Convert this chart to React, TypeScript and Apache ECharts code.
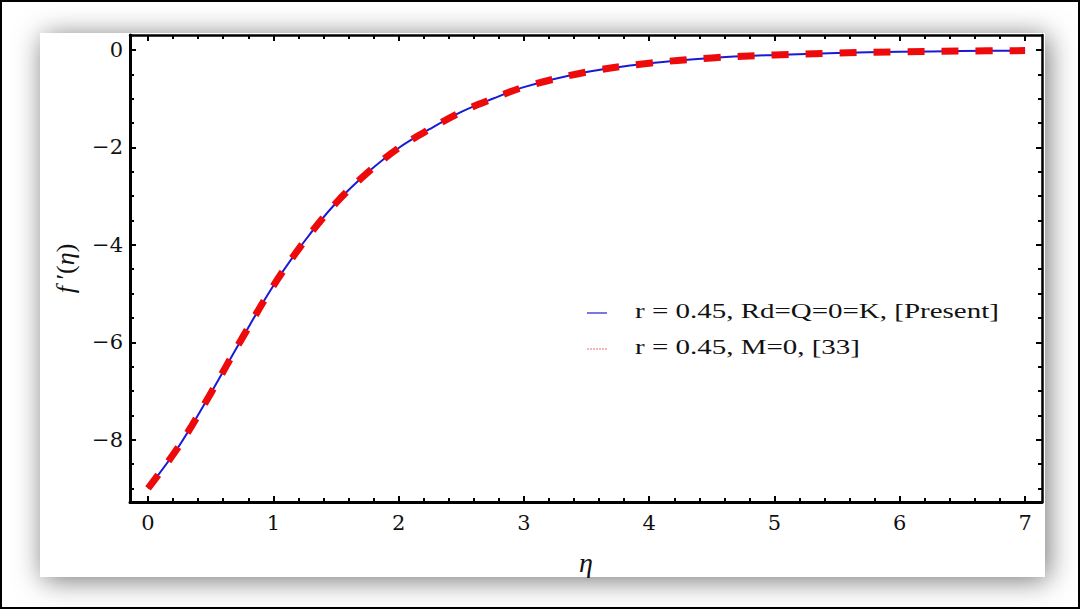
import React, { useEffect, useRef } from "react";
import * as echarts from "echarts";

// η values
const ETA = [0, 0.25, 0.5, 0.75, 1.0, 1.25, 1.5, 1.75, 2.0, 2.25, 2.5, 2.75, 3.0, 3.5, 4.0, 4.5, 5.0, 5.5, 6.0, 6.5, 7.0];
// f'(η): r = 0.45, Rd=Q=0=K, [Present]
const PRESENT = [-9.0, -8.12, -7.05, -5.92, -4.84, -3.92, -3.14, -2.52, -2.01, -1.62, -1.27, -1.0, -0.76, -0.45, -0.27, -0.16, -0.1, -0.06, -0.035, -0.02, -0.01];
// f'(η): r = 0.45, M=0, [33]
const REF33 = [-9.0, -8.12, -7.05, -5.92, -4.84, -3.92, -3.14, -2.52, -2.01, -1.62, -1.27, -1.0, -0.76, -0.45, -0.27, -0.16, -0.1, -0.06, -0.035, -0.02, -0.01];

const X_MAJOR = [0, 1, 2, 3, 4, 5, 6, 7];
const Y_MAJOR = [0, -2, -4, -6, -8];
const LEGEND_LABELS = ["r = 0.45, Rd=Q=0=K, [Present]", "r = 0.45, M=0, [33]"];

const X_MIN = -0.144;
const X_MAX = 7.135;
const Y_MIN = -9.28;
const Y_MAX = 0.31;

const X_MINOR: number[] = [];
for (let i = 0; i <= 35; i++) if (i % 5 !== 0) X_MINOR.push(Math.round(i * 2) / 10);
const Y_MINOR: number[] = [];
for (let i = 0; i <= 18; i++) if (i % 4 !== 0) Y_MINOR.push(-i / 2);

const SERIF = '"DejaVu Serif", "Liberation Serif", serif';
const fmt = (v: number) => (v < 0 ? "\u2212" + Math.abs(v) : String(v));

function xAxisDef(pos: "top" | "bottom", ticks: number[], major: boolean, extra: any = {}) {
  return {
    type: "value",
    min: X_MIN,
    max: X_MAX,
    position: pos,
    axisLine: { show: major, onZero: false, lineStyle: { color: "#000", width: pos === "bottom" ? 3 : 2.5 } },
    axisTick: { show: true, inside: true, length: major ? 6 : 4, lineStyle: { color: "#000", width: 2 }, customValues: ticks },
    axisLabel: { show: false },
    splitLine: { show: false },
    ...extra,
  };
}
function yAxisDef(pos: "left" | "right", ticks: number[], major: boolean, extra: any = {}) {
  return {
    type: "value",
    min: Y_MIN,
    max: Y_MAX,
    position: pos,
    axisLine: { show: major, onZero: false, lineStyle: { color: "#000", width: pos === "left" ? 3 : 2.5 } },
    axisTick: { show: true, inside: true, length: major ? 6 : 4, lineStyle: { color: "#000", width: 2 }, customValues: ticks },
    axisLabel: { show: false },
    splitLine: { show: false },
    ...extra,
  };
}

export default function App() {
  const ref = useRef<HTMLDivElement>(null);
  useEffect(() => {
    if (!ref.current) return;
    const chart = echarts.init(ref.current, null, { renderer: "svg" });
    const option: any = {
      animation: false,
      backgroundColor: "#fff",
      grid: { left: 130, top: 35, right: 43, bottom: 108, containLabel: false },
      xAxis: [
        xAxisDef("bottom", X_MAJOR, true, {
          axisLabel: {
            show: true,
            customValues: X_MAJOR,
            formatter: fmt,
            fontFamily: SERIF,
            fontSize: 21,
            color: "#111",
            margin: 10,
          },
          name: "\u03b7",
          nameLocation: "middle",
          nameGap: 46,
          nameTextStyle: { fontFamily: '"Liberation Serif", serif', fontStyle: "italic", fontSize: 28, color: "#111" },
        }),
        xAxisDef("bottom", X_MINOR, false),
        xAxisDef("top", X_MAJOR, true),
        xAxisDef("top", X_MINOR, false),
      ],
      yAxis: [
        yAxisDef("left", Y_MAJOR, true, {
          axisLabel: {
            show: true,
            customValues: Y_MAJOR,
            formatter: fmt,
            fontFamily: SERIF,
            fontSize: 21,
            color: "#111",
            margin: 7,
          },
          name: "{i|f} \u2032({i|\u03b7})",
          nameLocation: "middle",
          nameRotate: 90,
          nameGap: 52,
          nameTextStyle: {
            fontFamily: '"Liberation Serif", serif',
            fontSize: 26,
            color: "#111",
            rich: {
              i: { fontFamily: '"Liberation Serif", serif', fontStyle: "italic", fontSize: 26, color: "#111" },
            },
          },
        }),
        yAxisDef("left", Y_MINOR, false),
        yAxisDef("right", Y_MAJOR, true),
        yAxisDef("right", Y_MINOR, false),
      ],
      series: [
        {
          name: LEGEND_LABELS[0],
          type: "line",
          xAxisIndex: 0,
          yAxisIndex: 0,
          data: ETA.map((x, i) => [x, PRESENT[i]]),
          smooth: 0.35,
          showSymbol: false,
          symbol: "none",
          lineStyle: { color: "#1a1ad6", width: 2 },
          z: 3,
        },
        {
          name: LEGEND_LABELS[1],
          type: "line",
          xAxisIndex: 0,
          yAxisIndex: 0,
          data: ETA.map((x, i) => [x, REF33[i]]),
          smooth: 0.35,
          showSymbol: false,
          symbol: "none",
          lineStyle: { color: "#ee0a0a", width: 7, type: [17, 17], cap: "butt" },
          z: 4,
        },
      ],
      graphic: {
        elements: [
          {
            type: "rect",
            z: -10,
            silent: true,
            shape: { x: 40, y: 33, width: 1005, height: 544 },
            style: { fill: "#fff", shadowBlur: 28, shadowColor: "rgba(0,0,0,0.55)", shadowOffsetX: 3, shadowOffsetY: 3 },
          },
          {
            type: "rect",
            z: 10,
            silent: true,
            shape: { x: 1, y: 1, width: 1078, height: 607 },
            style: { fill: "none", stroke: "#000", lineWidth: 2 },
          },
          {
            type: "line",
            z: 10,
            shape: { x1: 587, y1: 313, x2: 607, y2: 313 },
            style: { stroke: "#4b4bd2", lineWidth: 1.5 },
          },
          {
            type: "line",
            z: 10,
            shape: { x1: 587, y1: 349, x2: 607, y2: 349 },
            style: { stroke: "#f0a0a0", lineWidth: 1.5, lineDash: [2, 1] },
          },
          {
            type: "text",
            z: 10,
            x: 635,
            y: 311,
            scaleX: 1.38,
            style: {
              text: LEGEND_LABELS[0],
              fontFamily: '"Liberation Serif", serif',
              fontSize: 21,
              fill: "#111",
              verticalAlign: "middle",
            },
          },
          {
            type: "text",
            z: 10,
            x: 635,
            y: 347,
            scaleX: 1.38,
            style: {
              text: LEGEND_LABELS[1],
              fontFamily: '"Liberation Serif", serif',
              fontSize: 21,
              fill: "#111",
              verticalAlign: "middle",
            },
          },
        ],
      },
    };
    chart.setOption(option);
    return () => chart.dispose();
  }, []);
  return <div ref={ref} style={{ position: "absolute", left: 0, top: 0, width: 1085, height: 610 }} />;
}
